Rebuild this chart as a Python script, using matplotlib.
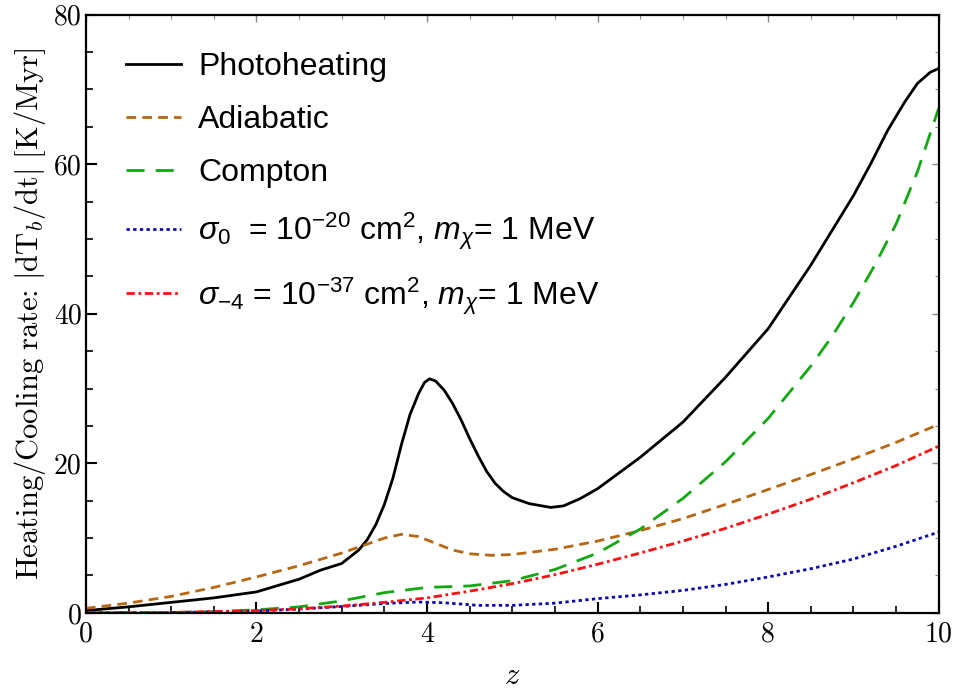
import matplotlib
matplotlib.use("Agg")
import matplotlib.pyplot as plt
from matplotlib.font_manager import FontProperties

# redshift grids + rates [K/Myr]
z_photo = [0, 0.5, 1, 1.5, 2, 2.5, 2.75, 3, 3.1, 3.2, 3.3, 3.4, 3.5, 3.6, 3.7, 3.8,
           3.9, 3.97, 4.03, 4.1, 4.2, 4.3, 4.4, 4.5, 4.6, 4.7, 4.8, 4.9, 5.0, 5.2,
           5.45, 5.6, 5.8, 6.0, 6.5, 7.0, 7.5, 8.0, 8.5, 9.0, 9.2, 9.4, 9.6, 9.75,
           9.9, 10]
photoheating = [0.3, 0.8, 1.4, 2.0, 2.8, 4.5, 5.7, 6.6, 7.5, 8.4, 9.8, 11.8, 14.5,
                18.0, 22.5, 26.5, 29.3, 30.8, 31.3, 31.0, 29.8, 28.0, 25.8, 23.3,
                21.0, 18.9, 17.3, 16.2, 15.4, 14.6, 14.1, 14.3, 15.3, 16.6, 20.8,
                25.5, 31.5, 38, 46.5, 55.8, 60, 64.5, 68.3, 70.8, 72.3, 72.8]

z_adia = [0, 0.5, 1, 1.5, 2, 2.5, 3, 3.3, 3.5, 3.7, 3.9, 4.1, 4.3, 4.5, 4.75, 5, 5.5,
          6, 6.5, 7, 7.5, 8, 8.5, 9, 9.5, 10]
adiabatic = [0.6, 1.3, 2.2, 3.4, 4.8, 6.3, 8.0, 9.2, 10.0, 10.5, 10.2, 9.3, 8.4, 7.9,
             7.7, 7.8, 8.5, 9.6, 11.0, 12.6, 14.5, 16.5, 18.5, 20.6, 22.8, 25.2]

z_comp = [0, 1, 1.5, 2, 2.5, 3, 3.5, 4, 4.5, 5, 5.5, 6, 6.5, 7, 7.5, 8, 8.5, 8.75,
          9, 9.25, 9.5, 9.75, 10]
compton = [0, 0.05, 0.15, 0.4, 0.8, 1.6, 2.7, 3.4, 3.6, 4.3, 5.8, 8.0, 11.2, 15.3,
           20.2, 26, 33, 37, 41.5, 46.5, 52, 59, 67.5]

z_sig0 = [0, 1, 2, 2.5, 3, 3.5, 3.9, 4.2, 4.6, 5, 5.5, 6, 6.5, 7, 7.5, 8, 8.5, 9, 9.5, 10]
sigma0 = [0, 0.03, 0.25, 0.5, 0.85, 1.25, 1.45, 1.35, 1.0, 1.0, 1.3, 1.9, 2.4, 3.0,
          3.8, 4.8, 5.9, 7.2, 8.9, 10.8]

z_sig4 = [0, 1, 2, 2.5, 3, 3.5, 4, 4.5, 5, 5.5, 6, 6.5, 7, 7.5, 8, 8.5, 9, 9.5, 10]
sigma_m4 = [0, 0.05, 0.3, 0.55, 0.9, 1.4, 2.0, 2.9, 3.9, 5.1, 6.5, 8.0, 9.6, 11.3,
            13.2, 15.2, 17.4, 19.7, 22.3]

labels = [
    "Photoheating",
    "Adiabatic",
    "Compton",
    r"$\sigma_0$  = 10$^{-20}$ cm$^2$, $m_\chi$= 1 MeV",
    r"$\sigma_{-4}$ = 10$^{-37}$ cm$^2$, $m_\chi$= 1 MeV",
]

plt.rcParams["mathtext.fontset"] = "cm"
plt.rcParams["mathtext.rm"] = "Liberation Sans"
plt.rcParams["mathtext.it"] = "Liberation Sans:italic"
plt.rcParams["mathtext.bf"] = "Liberation Sans:bold"
plt.rcParams["axes.unicode_minus"] = False

fig = plt.figure(figsize=(9.54, 6.98), dpi=100)
ax = fig.add_axes([0.090, 0.122, 0.894, 0.857])

lw = 2.0
ax.plot(z_photo, photoheating, color="black", lw=lw, label=labels[0])
ax.plot(z_adia, adiabatic, color="#B8660F", lw=lw, dashes=(3.5, 2.2), label=labels[1])
ax.plot(z_comp, compton, color="#12A812", lw=lw, dashes=(6.5, 4), label=labels[2])
ax.plot(z_sig0, sigma0, color="#0A0AB0", lw=lw, dashes=(1.2, 1.2), label=labels[3])
ax.plot(z_sig4, sigma_m4, color="#FF1010", lw=lw, dashes=(3, 1.3, 1, 1.3), label=labels[4])

ax.set_xlim(0, 10)
ax.set_ylim(0, 80)

ax.set_xticks([0, 2, 4, 6, 8, 10])
ax.set_yticks([0, 20, 40, 60, 80])
ax.set_xticks([i * 0.5 for i in range(21)], minor=True)
ax.set_yticks([i * 5 for i in range(17)], minor=True)

tick_font = FontProperties(family="cmr10", size=20)
for lab in ax.get_xticklabels() + ax.get_yticklabels():
    lab.set_fontproperties(tick_font)

ax.tick_params(which="major", direction="in", length=8, width=1.5, pad=6,
               top=False, right=False)
ax.tick_params(which="minor", direction="in", length=5, width=1.2,
               top=False, right=False)
ax.tick_params(axis="y", which="major", pad=3)

# thin grey ticks on top/right frame
sec_x = ax.secondary_xaxis("top")
sec_x.set_xticks([0, 2, 4, 6, 8, 10])
sec_x.set_xticks([i * 0.5 for i in range(21)], minor=True)
sec_y = ax.secondary_yaxis("right")
sec_y.set_yticks([0, 20, 40, 60, 80])
sec_y.set_yticks([i * 5 for i in range(17)], minor=True)
for sec in (sec_x, sec_y):
    sec.tick_params(which="both", direction="in", color="#888888", labelsize=0,
                    labelcolor="none")
    sec.tick_params(which="major", length=5, width=1.0)
    sec.tick_params(which="minor", length=3, width=0.8)
    for sp in sec.spines.values():
        sp.set_visible(False)

for sp in ax.spines.values():
    sp.set_linewidth(1.6)

ax.set_xlabel(r"$z$", fontsize=22, math_fontfamily="cm", labelpad=10)
ax.set_ylabel(r"$\mathrm{Heating/Cooling\ rate}\text{:}\ \mathrm{|dT}_b\mathrm{/dt|\ [K/Myr]}$",
              fontsize=22, math_fontfamily="cm", labelpad=4)

leg_font = FontProperties(family="Liberation Sans", size=23, math_fontfamily="custom")
ax.legend(loc="upper left", bbox_to_anchor=(0.025, 0.97), frameon=False, prop=leg_font,
          handlelength=1.7, handletextpad=0.55, labelspacing=0.72, borderaxespad=0.2)

fig.savefig("out.png", dpi=100)
